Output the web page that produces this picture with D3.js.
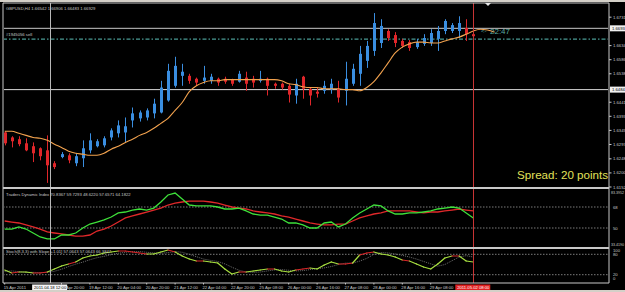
<!DOCTYPE html>
<html>
<head>
<meta charset="utf-8">
<script src="https://cdn.jsdelivr.net/npm/d3@7"></script>
<style>
  body { margin: 0; background: #000; }
  svg { display: block; font-family: "Liberation Sans", Arial, sans-serif; }
</style>
</head>
<body>
<div id="wrapper"></div>
<script>
// H4 GBPUSD bars
const open = [1.6338,1.6321,1.6315,1.6301,1.6291,1.6284,1.6277,1.6233,1.6254,1.6260,
  1.6233,1.6250,1.6277,1.6291,1.6294,1.6321,1.6335,1.6338,1.6379,1.6386,
  1.6389,1.6403,1.6406,1.6447,1.6497,1.6531,1.6531,1.6521,1.6514,1.6514,
  1.6521,1.6521,1.6518,1.6511,1.6525,1.6521,1.6514,1.6521,1.6504,1.6504,
  1.6497,1.6464,1.6528,1.6487,1.6477,1.6480,1.6484,1.6487,1.6480,1.6504,
  1.6538,1.6582,1.6616,1.6643,1.6684,1.6670,1.6650,1.6646,1.6629,1.6640,
  1.6643,1.6657,1.6684,1.6684,1.6684,1.6694,1.6673]
const high = [1.6342,1.6325,1.6325,1.6318,1.6304,1.6287,1.6328,1.6240,1.6271,1.6267,
  1.6267,1.6311,1.6335,1.6315,1.6325,1.6352,1.6379,1.6389,1.6423,1.6413,
  1.6420,1.6453,1.6514,1.6572,1.6596,1.6572,1.6538,1.6525,1.6565,1.6538,
  1.6525,1.6528,1.6521,1.6548,1.6545,1.6531,1.6548,1.6525,1.6508,1.6508,
  1.6504,1.6521,1.6531,1.6491,1.6491,1.6514,1.6521,1.6514,1.6579,1.6572,
  1.6633,1.6650,1.6745,1.6724,1.6690,1.6680,1.6657,1.6653,1.6657,1.6673,
  1.6690,1.6701,1.6724,1.6711,1.6734,1.6724,1.6680]
const low = [1.6294,1.6287,1.6291,1.6274,1.6237,1.6243,1.6166,1.6213,1.6250,1.6233,
  1.6223,1.6220,1.6267,1.6287,1.6287,1.6311,1.6321,1.6304,1.6355,1.6375,
  1.6379,1.6386,1.6403,1.6443,1.6491,1.6497,1.6504,1.6497,1.6504,1.6504,
  1.6497,1.6504,1.6497,1.6508,1.6480,1.6491,1.6508,1.6464,1.6487,1.6484,
  1.6440,1.6436,1.6453,1.6430,1.6457,1.6470,1.6470,1.6440,1.6430,1.6497,
  1.6497,1.6558,1.6599,1.6626,1.6650,1.6629,1.6626,1.6616,1.6623,1.6633,
  1.6633,1.6616,1.6673,1.6677,1.6660,1.6650,1.6660]
const close = [1.6301,1.6308,1.6298,1.6277,1.6267,1.6257,1.6226,1.6220,1.6264,1.6243,
  1.6257,1.6284,1.6311,1.6308,1.6318,1.6345,1.6362,1.6359,1.6403,1.6406,
  1.6413,1.6436,1.6491,1.6548,1.6565,1.6545,1.6514,1.6508,1.6525,1.6528,
  1.6508,1.6511,1.6504,1.6538,1.6504,1.6508,1.6521,1.6497,1.6497,1.6491,
  1.6467,1.6504,1.6487,1.6464,1.6470,1.6497,1.6504,1.6457,1.6521,1.6555,
  1.6606,1.6633,1.6711,1.6701,1.6660,1.6643,1.6633,1.6626,1.6646,1.6660,
  1.6677,1.6684,1.6718,1.6704,1.6711,1.6673,1.6666]

// shifted moving average (runs 3 bars past the last candle)
const maLine = [1.6342,1.6342,1.6335,1.6328,1.6321,1.6318,1.6311,1.6298,1.6287,1.6274,
  1.6267,1.6264,1.6260,1.6260,1.6267,1.6281,1.6291,1.6304,1.6315,1.6328,
  1.6338,1.6352,1.6369,1.6386,1.6413,1.6440,1.6477,1.6497,1.6508,1.6514,
  1.6514,1.6518,1.6518,1.6518,1.6518,1.6518,1.6518,1.6518,1.6518,1.6514,
  1.6504,1.6501,1.6494,1.6491,1.6491,1.6487,1.6487,1.6487,1.6484,1.6484,
  1.6480,1.6491,1.6511,1.6541,1.6575,1.6609,1.6629,1.6640,1.6646,1.6646,
  1.6643,1.6643,1.6650,1.6657,1.6663,1.6673,1.6684,1.6690,1.6687,1.6680]

// Traders Dynamic Index
const tdiGreen = [49.1,49.1,50.9,49.1,45.7,42.3,40.6,40.6,44.0,44.0,
  45.7,50.0,53.4,55.1,56.9,59.4,62.9,63.7,65.4,66.3,
  65.4,67.1,72.3,78.3,80.0,74.9,69.7,68.9,68.9,68.9,
  68.0,66.3,66.3,67.1,64.6,62.0,61.1,61.1,59.4,57.7,
  54.3,54.3,52.6,50.0,50.0,54.3,55.1,50.9,53.4,58.6,
  62.9,66.3,69.7,68.9,64.6,62.0,62.0,62.9,62.9,63.7,
  64.6,66.3,67.1,68.0,67.1,62.9,58.6]
const tdiRed = [56.0,55.1,54.3,52.6,50.9,49.1,46.6,45.7,44.9,44.0,
  43.1,43.1,44.0,47.4,49.1,51.7,55.1,58.6,60.3,62.0,
  63.7,65.4,67.1,69.7,71.4,72.3,73.1,73.1,73.1,72.3,
  71.4,69.7,68.0,67.1,66.3,64.6,63.7,62.9,62.0,60.3,
  59.4,57.7,56.0,54.3,53.4,52.6,52.6,53.4,53.4,56.0,
  58.6,60.3,62.0,62.9,64.6,64.6,64.6,64.6,63.7,62.9,
  63.7,63.7,64.6,65.4,66.3,65.4,64.6]
const tdiLevels = [68, 50]

// Stochastic
const stochMain = [33.8,25.0,27.9,27.9,25.0,25.0,27.9,36.8,45.6,51.5,
  57.4,69.1,75.0,77.9,83.8,86.8,89.7,89.7,86.8,83.8,
  80.9,80.9,86.8,92.6,86.8,75.0,66.2,60.3,60.3,57.4,
  54.4,36.8,22.1,27.9,27.9,30.9,33.8,36.8,36.8,30.9,
  27.9,33.8,36.8,39.7,36.8,48.5,57.4,51.5,51.5,54.4,
  77.9,83.8,86.8,80.9,77.9,72.1,63.2,60.3,51.5,42.6,
  36.8,51.5,69.1,75.0,75.0,60.3,57.4]
const stochSignal = [30,31,29,27,27,26,27,30,36,44,
  51,57,64,70,74,79,83,86,88,88,
  86,84,83,85,88,86,80,73,66,62,
  59,52,42,33,28,27,28,31,34,35,
  33,31,32,35,38,40,44,50,54,54,
  60,68,80,85,84,81,77,72,66,59,
  52,45,50,61,72,76,72]
// bar ranges where the slope line is painted red
const stochRedRuns = [[1,2],[4,6],[9,10],[16,20],[23,24],[27,28],[33,34],[37,38],[41,43],[47,49],[50,52],[56,57],[63,64]]
const stochLevels = [80, 20]

// axis texts
const priceTicks = [1.6731,1.6634,1.6586,1.6538,1.6441,1.6393,1.6345,1.6297,1.6248,1.6200,1.6152]
const bidPrice = 1.6693
const hlinePrice = 1.6484
const sellPrice = 1.6656
const timeLabels = [
  [0, "15 Apr 2011"], [8, "18 Apr 20:00"], [12, "19 Apr 12:00"], [16, "20 Apr 04:00"],
  [20, "20 Apr 20:00"], [24, "21 Apr 12:00"], [28, "22 Apr 04:00"], [32, "22 Apr 20:00"],
  [36, "25 Apr 08:00"], [40, "26 Apr 00:00"], [44, "26 Apr 16:00"], [48, "27 Apr 08:00"],
  [52, "28 Apr 00:00"], [56, "28 Apr 16:00"], [60, "29 Apr 08:00"]
]
const crossBar = 6.4
const crossLabel = "2011.04.18 12:00"
const vlineBar = 66
const vlineLabel = "2011.05.02 08:00"

function draw() {
  const width = 625
  const height = 292
  const left = 3, right = 609
  const main = { top: 3, bottom: 188 }
  const tdiP = { top: 188, bottom: 248 }
  const stP = { top: 248, bottom: 283 }

  const svg = d3.select("#wrapper").append("svg")
    .attr("width", width)
    .attr("height", height)

  svg.append("rect").attr("width", width).attr("height", height).attr("fill", "#000")

  // scales
  const xScale = d3.scaleLinear().domain([0, 66]).range([4.7, 473.3])
  const yScale = d3.scaleLinear().domain([1.6152, 1.6735]).range([187, 16])
  const tdiScale = d3.scaleLinear().domain([50, 68]).range([228, 207])
  const stScale = d3.scaleLinear().domain([0, 100]).range([281.5, 247.5])

  const defs = svg.append("defs")
  const clip = (id, p) => defs.append("clipPath").attr("id", id)
    .append("rect").attr("x", left + 1).attr("y", p.top + 1)
    .attr("width", right - left - 2).attr("height", p.bottom - p.top - 2)
  clip("cMain", main)
  clip("cTdi", tdiP)
  clip("cSt", stP)

  const grey = "#c8c8c8"

  // ---- main panel
  const gMain = svg.append("g").attr("clip-path", "url(#cMain)")

  // bid line + horizontal line
  gMain.append("line").attr("x1", left).attr("x2", right)
    .attr("y1", yScale(bidPrice)).attr("y2", yScale(bidPrice))
    .attr("stroke", grey).attr("stroke-width", 1)
  gMain.append("line").attr("x1", left).attr("x2", right)
    .attr("y1", yScale(hlinePrice)).attr("y2", yScale(hlinePrice))
    .attr("stroke", "#d8d8d8").attr("stroke-width", 1)
  // sell order level
  gMain.append("line").attr("x1", left).attr("x2", right)
    .attr("y1", yScale(sellPrice)).attr("y2", yScale(sellPrice))
    .attr("stroke", "#4a9a94").attr("stroke-width", 1.3)
    .attr("stroke-dasharray", "4,2,1.5,2")

  const idx = d3.range(open.length)
  const upCol = "#3a8ee0", dnCol = "#e0262a"
  const colorOf = i => close[i] >= open[i] ? upCol : dnCol

  gMain.selectAll(".wick").data(idx).join("line")
    .attr("x1", i => Math.round(xScale(i)) + 0.5)
    .attr("x2", i => Math.round(xScale(i)) + 0.5)
    .attr("y1", i => yScale(high[i]))
    .attr("y2", i => yScale(low[i]))
    .attr("stroke", colorOf).attr("stroke-width", 1)

  gMain.selectAll(".body").data(idx).join("rect")
    .attr("x", i => Math.round(xScale(i)) - 1)
    .attr("width", 3)
    .attr("y", i => yScale(Math.max(open[i], close[i])))
    .attr("height", i => Math.max(1, Math.abs(yScale(open[i]) - yScale(close[i]))))
    .attr("fill", colorOf)

  gMain.append("path")
    .datum(maLine)
    .attr("d", d3.line().x((d, i) => xScale(i)).y(d => yScale(d)).curve(d3.curveMonotoneX))
    .attr("fill", "none").attr("stroke", "#f2a24e").attr("stroke-width", 1.1)

  // ---- TDI panel
  const gTdi = svg.append("g").attr("clip-path", "url(#cTdi)")
  gTdi.selectAll(".lvl").data(tdiLevels).join("line")
    .attr("x1", left).attr("x2", right)
    .attr("y1", d => tdiScale(d)).attr("y2", d => tdiScale(d))
    .attr("stroke", "#9a9a9a").attr("stroke-width", 0.8).attr("stroke-dasharray", "1.5,1.5")
  const tdiLine = d3.line().x((d, i) => xScale(i)).y(d => tdiScale(d))
  gTdi.append("path").datum(tdiRed).attr("d", tdiLine)
    .attr("fill", "none").attr("stroke", "#e0282a").attr("stroke-width", 1.3)
  gTdi.append("path").datum(tdiGreen).attr("d", tdiLine)
    .attr("fill", "none").attr("stroke", "#3ee03a").attr("stroke-width", 1.3)

  // ---- Stochastic panel
  const gSt = svg.append("g").attr("clip-path", "url(#cSt)")
  gSt.selectAll(".lvl").data(stochLevels).join("line")
    .attr("x1", left).attr("x2", right)
    .attr("y1", d => stScale(d)).attr("y2", d => stScale(d))
    .attr("stroke", "#9a9a9a").attr("stroke-width", 0.8).attr("stroke-dasharray", "1.5,1.5")
  const stLine = d3.line().x((d, i) => xScale(i)).y(d => stScale(d))
  gSt.append("path").datum(stochSignal).attr("d", stLine)
    .attr("fill", "none").attr("stroke", "#8a8a8a").attr("stroke-width", 0.8)
    .attr("stroke-dasharray", "1,1")
  const isRed = i => stochRedRuns.some(([a, b]) => i >= a && i < b)
  const segs = d3.range(stochMain.length - 1)
  gSt.selectAll(".seg").data(segs).join("line")
    .attr("x1", i => xScale(i)).attr("x2", i => xScale(i + 1))
    .attr("y1", i => stScale(stochMain[i])).attr("y2", i => stScale(stochMain[i + 1]))
    .attr("stroke", i => isRed(i) ? "#d8262a" : "#a8e040")
    .attr("stroke-width", 1.2).attr("stroke-linecap", "round")

  // ---- vertical lines through all panels
  svg.append("line")
    .attr("x1", Math.round(xScale(crossBar)) + 0.5).attr("x2", Math.round(xScale(crossBar)) + 0.5)
    .attr("y1", main.top).attr("y2", stP.bottom)
    .attr("stroke", "#b8b8b8").attr("stroke-width", 1)
  svg.append("line")
    .attr("x1", Math.round(xScale(vlineBar)) + 0.5).attr("x2", Math.round(xScale(vlineBar)) + 0.5)
    .attr("y1", main.top).attr("y2", stP.bottom)
    .attr("stroke", "#c83434").attr("stroke-width", 1)

  // ---- frames
  const frame = svg.append("g").attr("stroke", grey).attr("fill", "none")
  frame.append("line").attr("x1", left).attr("x2", right).attr("y1", main.top).attr("y2", main.top)
  frame.append("line").attr("x1", left).attr("x2", left).attr("y1", main.top).attr("y2", stP.bottom)
  frame.append("line").attr("x1", right).attr("x2", right).attr("y1", main.top).attr("y2", stP.bottom)
  frame.append("line").attr("x1", left).attr("x2", right).attr("y1", stP.bottom).attr("y2", stP.bottom)
  frame.selectAll(".sep").data([main.bottom, tdiP.bottom]).join("line")
    .attr("x1", left).attr("x2", right).attr("y1", d => d).attr("y2", d => d)
    .attr("stroke-width", 2)

  // window frame strips
  svg.append("rect").attr("x", 0).attr("y", 0).attr("width", width).attr("height", 2).attr("fill", "#d4d0c8")
  svg.append("rect").attr("x", 0).attr("y", 290).attr("width", width).attr("height", 2).attr("fill", "#d4d0c8")

  // shift marker
  svg.append("path").attr("d", "M485,3 L491,3 L488,6 Z").attr("fill", "#e8e8e8")

  // ---- texts
  const small = { size: 4.2, fill: "#c8c8c8" }
  const txt = (x, y, s, opts = {}) => svg.append("text")
    .attr("x", x).attr("y", y)
    .attr("font-size", opts.size || small.size)
    .attr("fill", opts.fill || small.fill)
    .attr("text-anchor", opts.anchor || "start")
    .text(s)

  txt(6, 10, "GBPUSD,H4  1.66542  1.66906  1.66483  1.66929")
  txt(6, 36, "#1945056 sell")
  txt(6, 195.5, "Traders Dynamic Index 70.8367 59.7293 48.6220 57.6571 64.1822")
  txt(6, 252.5, "Stoch(8,3,3) with Slope +1.01] 57.0643 57.0643 66.3847")

  // price axis
  const axis = svg.append("g")
  axis.selectAll("line").data(priceTicks).join("line")
    .attr("x1", right).attr("x2", right + 2.5)
    .attr("y1", d => yScale(d)).attr("y2", d => yScale(d))
    .attr("stroke", grey)
  axis.selectAll("text").data(priceTicks).join("text")
    .attr("x", right + 4).attr("y", d => yScale(d) + 1.5)
    .attr("font-size", small.size).attr("fill", small.fill)
    .text(d => d.toFixed(4))

  const priceBox = (p, label) => {
    const y = yScale(p)
    svg.append("rect").attr("x", right + 1).attr("y", y - 3).attr("width", 16).attr("height", 6).attr("fill", "#f0f0f0")
    txt(right + 3, y + 1.6, label, { fill: "#000" })
  }
  priceBox(bidPrice, bidPrice.toFixed(4))
  priceBox(hlinePrice, hlinePrice.toFixed(4))

  // indicator panel scales
  txt(right + 2, 193.5, "83.3952", { size: 3.6 })
  tdiLevels.forEach(v => txt(right + 4, tdiScale(v) + 1.5, String(v)))
  txt(right + 2, 246, "33.4190", { size: 3.6 })
  txt(right + 4, 251.5, "100")
  stochLevels.forEach(v => txt(right + 4, stScale(v) + 1.5, String(v)))
  txt(right + 4, 280, "0")

  // time axis
  svg.selectAll(".tl").data(timeLabels).join("text")
    .attr("x", d => xScale(d[0]) - 1).attr("y", 288.5)
    .attr("font-size", small.size).attr("fill", small.fill)
    .text(d => d[1])
  svg.selectAll(".tt").data(timeLabels).join("line")
    .attr("x1", d => xScale(d[0])).attr("x2", d => xScale(d[0]))
    .attr("y1", stP.bottom).attr("y2", stP.bottom + 1.5)
    .attr("stroke", grey)

  const cx = xScale(crossBar)
  svg.append("rect").attr("x", cx - 18).attr("y", 284.5).attr("width", 35).attr("height", 5.5).attr("fill", "#f4f4f4")
  txt(cx, 288.8, crossLabel, { fill: "#000", anchor: "middle" })
  const vx = xScale(vlineBar)
  svg.append("rect").attr("x", vx - 18).attr("y", 284.5).attr("width", 35).attr("height", 5.5).attr("fill", "#e02020")
  txt(vx, 288.8, vlineLabel, { fill: "#ffffff", anchor: "middle" })

  // timer and spread
  txt(481, 33, "<-", { size: 6, fill: "#5aaaa0" })
  txt(490, 33.5, "22:47", { size: 8, fill: "#5aaaa0" })
  txt(608, 179, "Spread: 20 points", { size: 11.6, fill: "#e2e25a", anchor: "end" })
}

draw()
</script>
</body>
</html>
